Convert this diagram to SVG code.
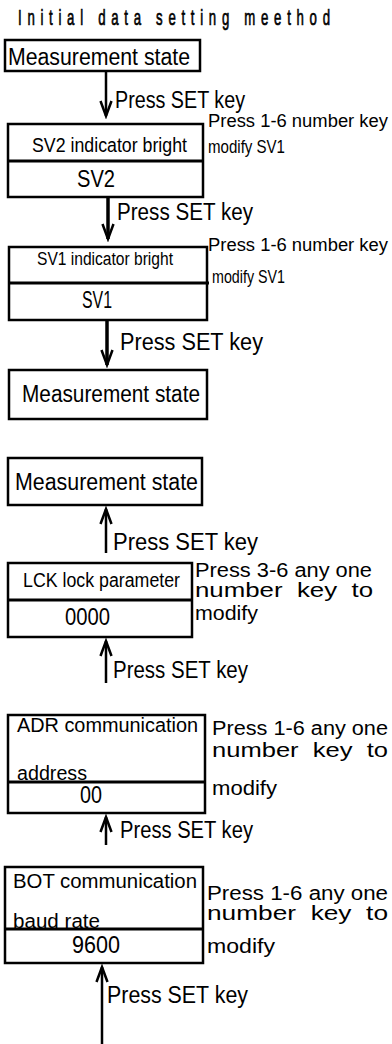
<svg xmlns="http://www.w3.org/2000/svg" width="392" height="1044" viewBox="0 0 392 1044">
<style>
text{font-family:"Liberation Sans",Arial,sans-serif;fill:#000;white-space:pre}
.title{stroke:#000;stroke-width:0.7}
.box{fill:#fff;stroke:#000;stroke-width:2.5}
.div{stroke:#000;stroke-width:3}
.conn{stroke:#000;stroke-width:2.5;fill:none}
.thick{stroke-width:3.5}
.big{font-size:23px}
.mid{font-size:20px}
.sm{font-size:18px}
.note{font-size:20px}
</style>
<defs>
<marker id="ah" markerUnits="userSpaceOnUse" markerWidth="20" markerHeight="16" viewBox="-2 -2 20 16" refX="15" refY="5.5" orient="auto">
<path d="M0,0 L15,5.5 L0,11" fill="none" stroke="#000" stroke-width="2.5"/>
</marker>
</defs>
<text class="title" transform="scale(0.6,1)" x="30" y="25" font-size="22" textLength="520" lengthAdjust="spacing">Initial data setting meethod</text>

<g id="n1">
<rect class="box" x="5" y="40" width="195" height="31"/>
<text class="big" x="8" y="65" textLength="182" lengthAdjust="spacingAndGlyphs">Measurement state</text>
</g>
<g id="n2">
<rect class="box" x="8" y="124" width="195" height="73"/>
<line class="div" x1="8" y1="161" x2="203" y2="161"/>
<text class="mid" x="32" y="152" textLength="155" lengthAdjust="spacingAndGlyphs">SV2 indicator bright</text>
<text class="big" x="77" y="187" textLength="38" lengthAdjust="spacingAndGlyphs">SV2</text>
</g>
<g id="n3">
<rect class="box" x="9" y="247" width="198" height="73"/>
<line class="div" x1="9" y1="283" x2="209" y2="283"/>
<text class="sm" x="37" y="265" textLength="136" lengthAdjust="spacingAndGlyphs">SV1 indicator bright</text>
<text class="big" x="82" y="308" textLength="30" lengthAdjust="spacingAndGlyphs">SV1</text>
</g>
<g id="n4">
<rect class="box" x="9" y="370" width="198" height="49"/>
<text class="big" x="22" y="402" textLength="178" lengthAdjust="spacingAndGlyphs">Measurement state</text>
</g>
<g id="n5">
<rect class="box" x="8" y="458" width="194" height="47"/>
<text class="big" x="15" y="490" textLength="183" lengthAdjust="spacingAndGlyphs">Measurement state</text>
</g>
<g id="n6">
<rect class="box" x="8" y="563" width="184" height="74"/>
<line class="div" x1="7" y1="600" x2="192" y2="600"/>
<text class="mid" x="23" y="587" textLength="157" lengthAdjust="spacingAndGlyphs">LCK lock parameter</text>
<text class="big" x="65" y="625" textLength="45" lengthAdjust="spacingAndGlyphs">0000</text>
</g>
<g id="n7">
<rect class="box" x="8" y="715" width="197" height="98"/>
<text class="mid" x="17" y="732" textLength="181" lengthAdjust="spacingAndGlyphs">ADR communication</text>
<text class="mid" x="17" y="780" textLength="70" lengthAdjust="spacingAndGlyphs">address</text>
<line class="div" x1="8" y1="782" x2="205" y2="782"/>
<text class="big" x="80" y="803" textLength="22" lengthAdjust="spacingAndGlyphs">00</text>
</g>
<g id="n8">
<rect class="box" x="5" y="867" width="198" height="96"/>
<text class="mid" x="13" y="888" textLength="184" lengthAdjust="spacingAndGlyphs">BOT communication</text>
<text class="mid" x="13" y="928" textLength="87" lengthAdjust="spacingAndGlyphs">baud rate</text>
<line class="div" x1="5" y1="929" x2="203" y2="929"/>
<text class="big" x="72" y="953" textLength="48" lengthAdjust="spacingAndGlyphs">9600</text>
</g>

<g id="notes">
<text class="sm" x="208" y="127" textLength="180" lengthAdjust="spacingAndGlyphs">Press 1-6 number key</text>
<text class="sm" x="208" y="153" textLength="77" lengthAdjust="spacingAndGlyphs">modify SV1</text>
<text class="sm" x="208" y="251" textLength="180" lengthAdjust="spacingAndGlyphs">Press 1-6 number key</text>
<text class="sm" x="212" y="283" textLength="73" lengthAdjust="spacingAndGlyphs">modify SV1</text>
<text class="note" x="195" y="577" textLength="177" lengthAdjust="spacingAndGlyphs">Press 3-6 any one</text>
<text class="note" x="195" y="597" textLength="178" lengthAdjust="spacingAndGlyphs">number  key  to</text>
<text class="note" x="195" y="620" textLength="63" lengthAdjust="spacingAndGlyphs">modify</text>
<text class="note" x="212" y="735" textLength="176" lengthAdjust="spacingAndGlyphs">Press 1-6 any one</text>
<text class="note" x="212" y="757" textLength="176" lengthAdjust="spacingAndGlyphs">number  key  to</text>
<text class="note" x="212" y="795" textLength="65" lengthAdjust="spacingAndGlyphs">modify</text>
<text class="note" x="207" y="900" textLength="181" lengthAdjust="spacingAndGlyphs">Press 1-6 any one</text>
<text class="note" x="207" y="920" textLength="181" lengthAdjust="spacingAndGlyphs">number  key  to</text>
<text class="note" x="207" y="953" textLength="68" lengthAdjust="spacingAndGlyphs">modify</text>
</g>

<g id="connectors">
<line class="conn" x1="106" y1="71" x2="106" y2="116" marker-end="url(#ah)"/>
<line class="conn thick" x1="108" y1="197" x2="108" y2="239" marker-end="url(#ah)"/>
<line class="conn thick" x1="107" y1="320" x2="107" y2="365" marker-end="url(#ah)"/>
<line class="conn" x1="106" y1="553" x2="106" y2="509" marker-end="url(#ah)"/>
<line class="conn" x1="106" y1="683" x2="106" y2="641" marker-end="url(#ah)"/>
<line class="conn" x1="106" y1="845" x2="106" y2="817" marker-end="url(#ah)"/>
<line class="conn" x1="102" y1="1044" x2="102" y2="967" marker-end="url(#ah)"/>
<text class="big" x="115" y="108" textLength="130" lengthAdjust="spacingAndGlyphs">Press SET key</text>
<text class="big" x="117" y="220" textLength="136" lengthAdjust="spacingAndGlyphs">Press SET key</text>
<text class="big" x="120" y="350" textLength="143" lengthAdjust="spacingAndGlyphs">Press SET key</text>
<text class="big" x="113" y="550" textLength="145" lengthAdjust="spacingAndGlyphs">Press SET key</text>
<text class="big" x="113" y="678" textLength="135" lengthAdjust="spacingAndGlyphs">Press SET key</text>
<text class="big" x="120" y="838" textLength="133" lengthAdjust="spacingAndGlyphs">Press SET key</text>
<text class="big" x="107" y="1003" textLength="141" lengthAdjust="spacingAndGlyphs">Press SET key</text>
</g>
</svg>
